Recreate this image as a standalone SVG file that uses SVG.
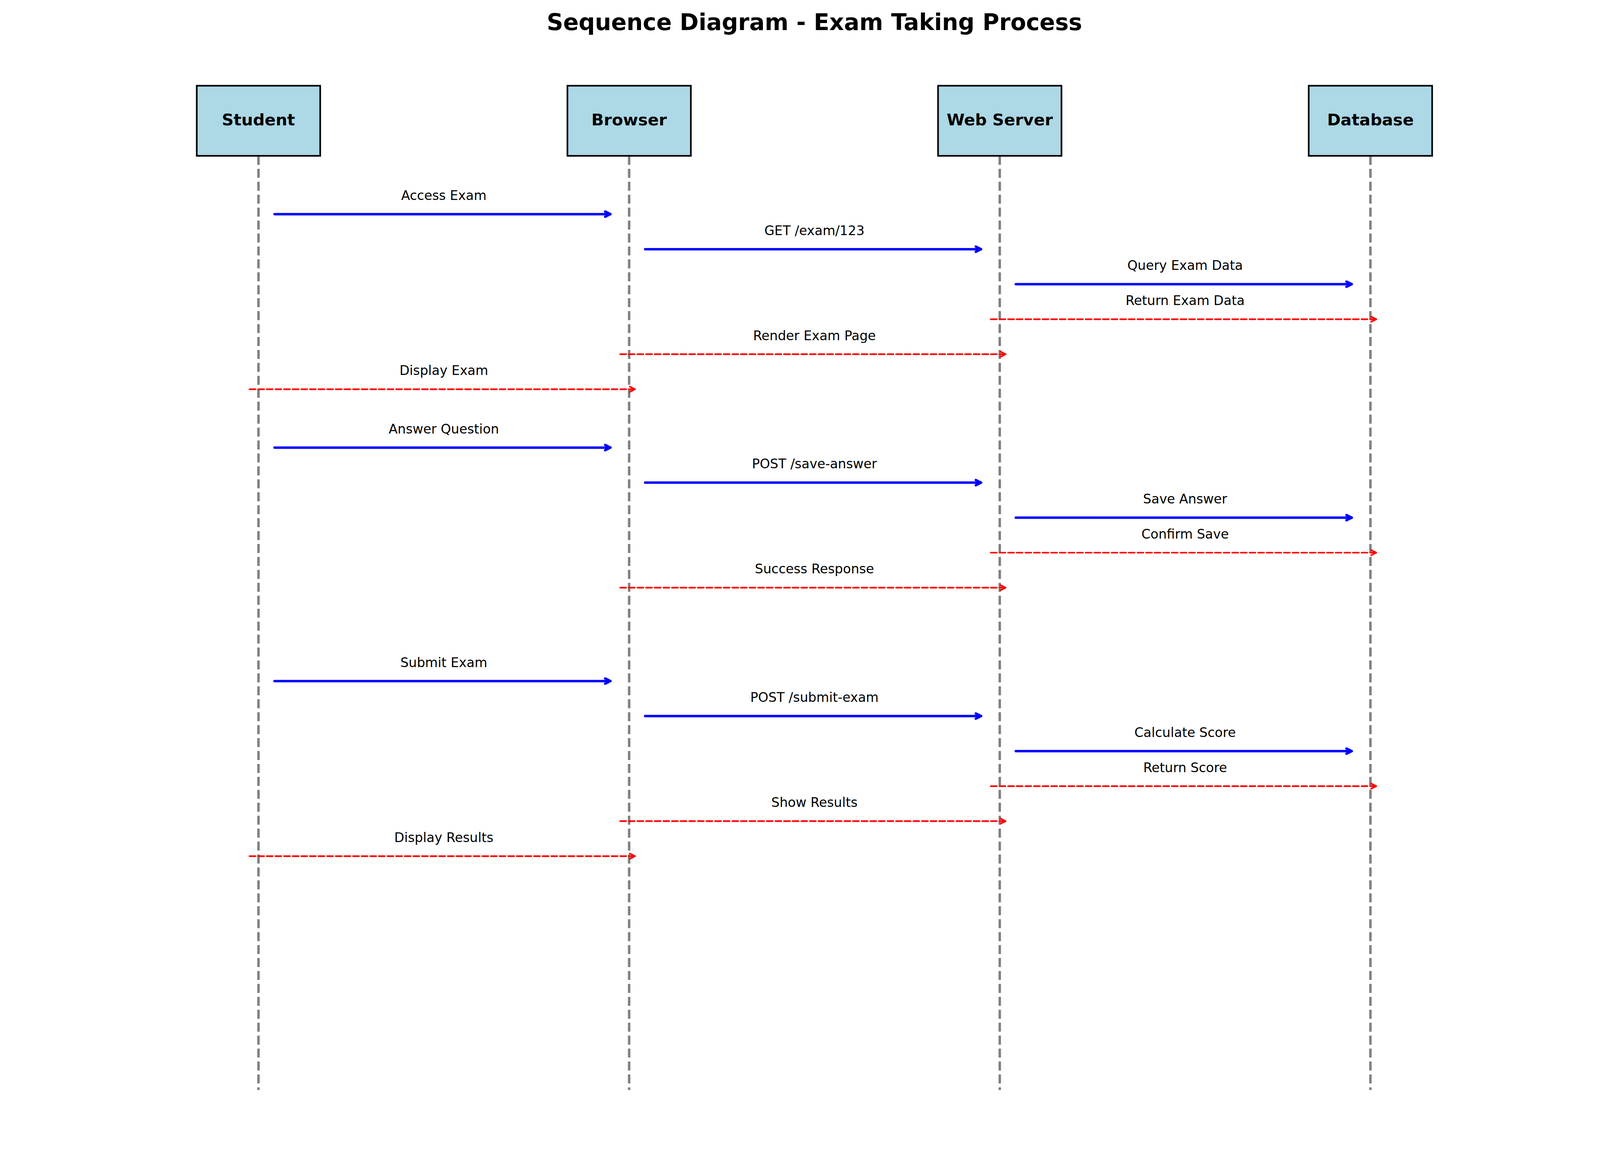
<svg xmlns="http://www.w3.org/2000/svg" width="4170" height="2970" viewBox="0 0 4170 2970">
<defs>
<style>
.bg{fill:#ffffff}
.box{fill:#ADD8E6;stroke:#000000;stroke-width:4.17}
.life{stroke:#808080;stroke-width:6.25;stroke-dasharray:23.125 10;fill:none}
.plabel{font-family:"DejaVu Sans","Liberation Sans",sans-serif;font-weight:bold;font-size:41.67px;text-anchor:middle;fill:#000}
.title{font-family:"DejaVu Sans","Liberation Sans",sans-serif;font-weight:bold;font-size:58.33px;text-anchor:middle;fill:#000}
.mlabel{font-family:"DejaVu Sans","Liberation Sans",sans-serif;font-size:33.33px;text-anchor:middle;fill:#000}
.call{stroke:#0000FF;stroke-width:6.25;fill:none;stroke-linecap:round;marker-end:url(#headBlue)}
.ret{stroke:#FF0000;stroke-width:4.17;fill:none;stroke-linecap:round;stroke-dasharray:15.4 6.67;marker-end:url(#headRed)}
</style>
<marker id="headBlue" markerUnits="userSpaceOnUse" orient="auto" overflow="visible" markerWidth="20" markerHeight="20" refX="0" refY="0">
<path d="M -13.3 -6.67 L 0 0 L -13.3 6.67" fill="none" stroke="#0000FF" stroke-width="6.25" stroke-linecap="round" stroke-linejoin="round"/>
</marker>
<marker id="headRed" markerUnits="userSpaceOnUse" orient="auto" overflow="visible" markerWidth="20" markerHeight="20" refX="0" refY="0">
<path d="M -13.3 -6.67 L 0 0 L -13.3 6.67" fill="none" stroke="#FF0000" stroke-width="4.17" stroke-linecap="round" stroke-linejoin="round"/>
</marker>
</defs>
<rect class="bg" x="0" y="0" width="4170" height="2970"/>
<text class="title" x="2085" y="77">Sequence Diagram - Exam Taking Process</text>

<g id="student">
<line class="life" x1="661.7" y1="399" x2="661.7" y2="2790.7"/>
<rect class="box" x="503.7" y="219.5" width="316" height="179.5"/>
<text class="plabel" x="661.7" y="321">Student</text>
</g>
<g id="browser">
<line class="life" x1="1610.6" y1="399" x2="1610.6" y2="2790.7"/>
<rect class="box" x="1452.6" y="219.5" width="316" height="179.5"/>
<text class="plabel" x="1610.6" y="321">Browser</text>
</g>
<g id="webserver">
<line class="life" x1="2559.4" y1="399" x2="2559.4" y2="2790.7"/>
<rect class="box" x="2401.4" y="219.5" width="316" height="179.5"/>
<text class="plabel" x="2559.4" y="321">Web Server</text>
</g>
<g id="database">
<line class="life" x1="3508.3" y1="399" x2="3508.3" y2="2790.7"/>
<rect class="box" x="3350.3" y="219.5" width="316" height="179.5"/>
<text class="plabel" x="3508.3" y="321">Database</text>
</g>

<g id="connectors">
<path class="call" d="M 702.7 548.3 H 1562.6"/>
<text class="mlabel" x="1136.2" y="512">Access Exam</text>
<path class="call" d="M 1651.6 638 H 2511.4"/>
<text class="mlabel" x="2085" y="601.7">GET /exam/123</text>
<path class="call" d="M 2600.4 727.6 H 3460.3"/>
<text class="mlabel" x="3033.9" y="691.3">Query Exam Data</text>
<path class="ret" d="M 2536.4 817.3 H 3523.3"/>
<text class="mlabel" x="3033.9" y="781">Return Exam Data</text>
<path class="ret" d="M 1587.6 906.9 H 2574.4"/>
<text class="mlabel" x="2085" y="870.6">Render Exam Page</text>
<path class="ret" d="M 638.7 996.6 H 1625.6"/>
<text class="mlabel" x="1136.2" y="960.3">Display Exam</text>

<path class="call" d="M 702.7 1146 H 1562.6"/>
<text class="mlabel" x="1136.2" y="1109.7">Answer Question</text>
<path class="call" d="M 1651.6 1235.7 H 2511.4"/>
<text class="mlabel" x="2085" y="1199.4">POST /save-answer</text>
<path class="call" d="M 2600.4 1325.4 H 3460.3"/>
<text class="mlabel" x="3033.9" y="1289.1">Save Answer</text>
<path class="ret" d="M 2536.4 1415 H 3523.3"/>
<text class="mlabel" x="3033.9" y="1378.7">Confirm Save</text>
<path class="ret" d="M 1587.6 1504.7 H 2574.4"/>
<text class="mlabel" x="2085" y="1468.4">Success Response</text>

<path class="call" d="M 702.7 1743.8 H 1562.6"/>
<text class="mlabel" x="1136.2" y="1707.5">Submit Exam</text>
<path class="call" d="M 1651.6 1833.4 H 2511.4"/>
<text class="mlabel" x="2085" y="1797.1">POST /submit-exam</text>
<path class="call" d="M 2600.4 1923.1 H 3460.3"/>
<text class="mlabel" x="3033.9" y="1886.8">Calculate Score</text>
<path class="ret" d="M 2536.4 2012.8 H 3523.3"/>
<text class="mlabel" x="3033.9" y="1976.5">Return Score</text>
<path class="ret" d="M 1587.6 2102.4 H 2574.4"/>
<text class="mlabel" x="2085" y="2066.1">Show Results</text>
<path class="ret" d="M 638.7 2192.1 H 1625.6"/>
<text class="mlabel" x="1136.2" y="2155.8">Display Results</text>
</g>
</svg>
